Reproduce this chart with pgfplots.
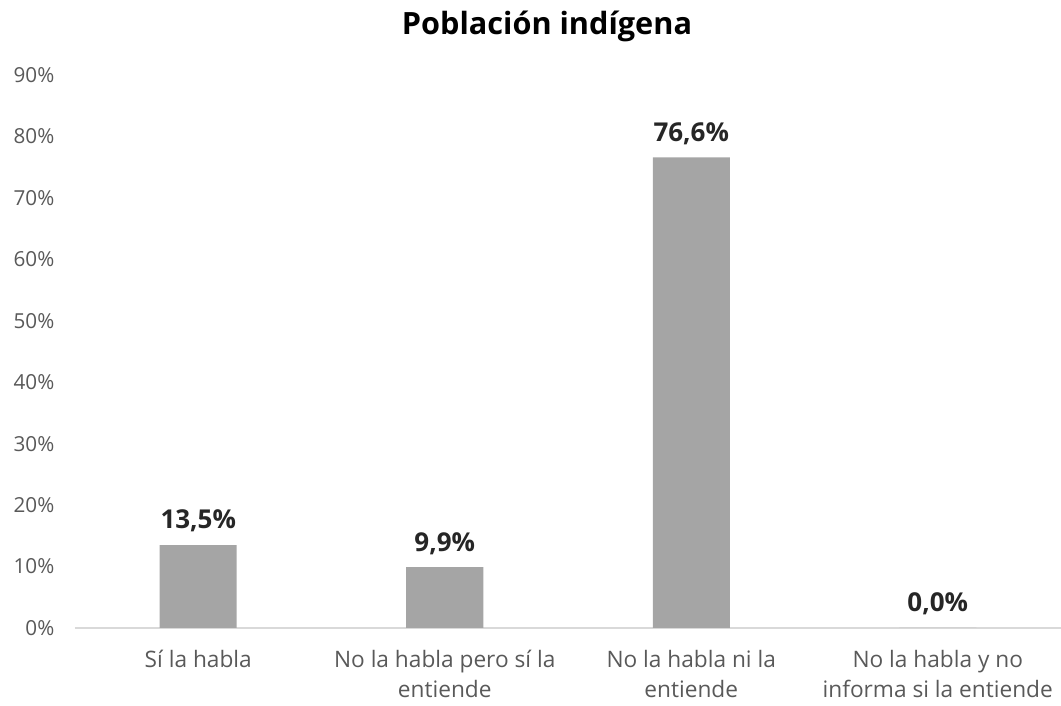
\documentclass[border=0pt]{standalone}
\usepackage{fontspec}
\setmainfont{Open Sans}
\usepackage{pgfplots}
\pgfplotsset{compat=1.18}
\definecolor{barfill}{HTML}{A5A5A5}
\definecolor{ticktext}{HTML}{595959}
\definecolor{labtext}{HTML}{262626}
\definecolor{axisline}{HTML}{D9D9D9}
\begin{document}
\begin{tikzpicture}
\useasboundingbox (-56.25pt,-58.5pt) rectangle (739.5pt,471pt);
\begin{axis}[
  at={(0,0)}, anchor=south west,
  scale only axis,
  width=739.5pt, height=414.75pt,
  ybar, bar width=57.75pt,
  xmin=-0.5, xmax=3.5,
  ymin=0, ymax=90,
  xtick=data,
  xticklabels={S\'{\i} la habla,{No la habla pero s\'{\i} la\\entiende},{No la habla ni la\\entiende},{No la habla y no\\informa si la entiende}},
  xticklabel style={align=center, font=\fontsize{17}{22.5}\selectfont, text=ticktext, yshift=-13pt},
  ytick={0,10,...,90},
  yticklabel={\pgfmathprintnumber{\tick}\%},
  yticklabel style={font=\fontsize{15.5}{18}\selectfont, text=ticktext, xshift=-12pt},
  /pgf/number format/assume math mode=true,
  major tick length=0pt,
  separate axis lines,
  axis x line*=bottom, axis y line*=left,
  x axis line style={draw=axisline, line width=1pt, -},
  y axis line style={draw=none},
  nodes near coords={\pgfmathprintnumber[fixed,fixed zerofill,precision=1,use comma]{\pgfplotspointmeta}\%},
  nodes near coords style={font=\bfseries\fontsize{19.5}{22}\selectfont, text=labtext, yshift=6pt},
]
\addplot+[fill=barfill, draw=none] coordinates {(0,13.5) (1,9.9) (2,76.6) (3,0.0)};
\end{axis}
\node[font=\bfseries\fontsize{23}{27}\selectfont, text=black] at (354pt,451pt) {Poblaci\'on ind\'{\i}gena};
\end{tikzpicture}
\end{document}
